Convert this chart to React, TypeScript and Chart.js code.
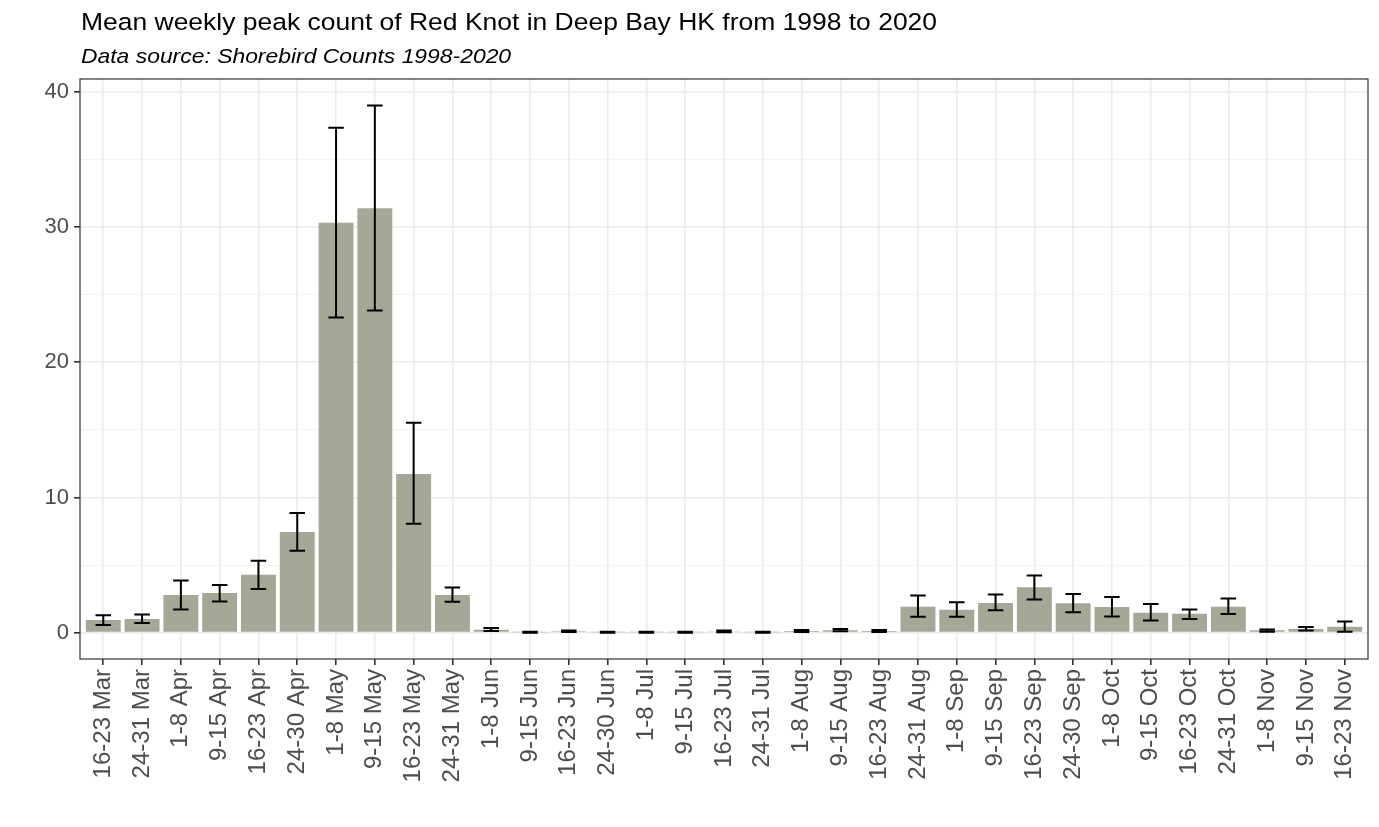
import React, { useEffect, useRef } from "react";
import { Chart, registerables } from "chart.js";

Chart.register(...registerables);

const categories = [
  "16-23 Mar", "24-31 Mar", "1-8 Apr", "9-15 Apr", "16-23 Apr", "24-30 Apr",
  "1-8 May", "9-15 May", "16-23 May", "24-31 May", "1-8 Jun", "9-15 Jun",
  "16-23 Jun", "24-30 Jun", "1-8 Jul", "9-15 Jul", "16-23 Jul", "24-31 Jul",
  "1-8 Aug", "9-15 Aug", "16-23 Aug", "24-31 Aug", "1-8 Sep", "9-15 Sep",
  "16-23 Sep", "24-30 Sep", "1-8 Oct", "9-15 Oct", "16-23 Oct", "24-31 Oct",
  "1-8 Nov", "9-15 Nov", "16-23 Nov",
];

const meanCounts = [
  0.94, 1.01, 2.78, 2.93, 4.29, 7.45, 30.31, 31.39, 11.74, 2.79, 0.22, 0.03,
  0.1, 0.03, 0.03, 0.03, 0.08, 0.03, 0.12, 0.18, 0.12, 1.92, 1.7, 2.2,
  3.35, 2.17, 1.9, 1.48, 1.4, 1.92, 0.17, 0.27, 0.44,
];

const errLow = [
  0.57, 0.71, 1.72, 2.31, 3.23, 6.05, 23.3, 23.82, 8.05, 2.28, 0.13, 0.0,
  0.05, 0.0, 0.0, 0.0, 0.03, 0.0, 0.05, 0.1, 0.05, 1.18, 1.18, 1.65,
  2.46, 1.5, 1.2, 0.89, 1.01, 1.38, 0.07, 0.15, 0.07,
];

const errHigh = [
  1.28, 1.35, 3.86, 3.52, 5.32, 8.85, 37.35, 38.99, 15.53, 3.34, 0.35, 0.07,
  0.15, 0.07, 0.07, 0.07, 0.15, 0.07, 0.2, 0.27, 0.2, 2.75, 2.24, 2.83,
  4.23, 2.86, 2.63, 2.12, 1.72, 2.53, 0.24, 0.42, 0.83,
];

const yTicks = [0, 5, 10, 15, 20, 25, 30, 35, 40];

const titleText = "Mean weekly peak count of Red Knot in Deep Bay HK from 1998 to 2020";
const subtitleText = "Data source: Shorebird Counts 1998-2020";

const FONT = "'Liberation Sans', Arial, sans-serif";

export default function App() {
  const canvasRef = useRef<HTMLCanvasElement | null>(null);

  useEffect(() => {
    document.body.style.margin = "0";
    const canvas = canvasRef.current;
    if (!canvas) return;

    const errorBarPlugin = {
      id: "errorBars",
      afterDatasetsDraw(chart: any) {
        const { ctx, scales } = chart;
        const xs = scales.x;
        const ys = scales.y;
        const unit = Math.abs(xs.getPixelForValue(1) - xs.getPixelForValue(0));
        const half = unit * 0.2;
        ctx.save();
        ctx.strokeStyle = "#000000";
        ctx.lineWidth = 2;
        categories.forEach((_, i) => {
          const x = xs.getPixelForValue(i);
          const yl = ys.getPixelForValue(errLow[i]);
          const yh = ys.getPixelForValue(errHigh[i]);
          ctx.beginPath();
          ctx.moveTo(x, yl);
          ctx.lineTo(x, yh);
          ctx.moveTo(x - half, yl);
          ctx.lineTo(x + half, yl);
          ctx.moveTo(x - half, yh);
          ctx.lineTo(x + half, yh);
          ctx.stroke();
        });
        ctx.restore();
      },
    };

    const framePlugin = {
      id: "frameAndTitles",
      afterDraw(chart: any) {
        const { ctx, chartArea } = chart;
        ctx.save();
        ctx.strokeStyle = "#333333";
        ctx.lineWidth = 1.2;
        ctx.strokeRect(chartArea.left, chartArea.top, chartArea.right - chartArea.left, chartArea.bottom - chartArea.top);
        ctx.fillStyle = "#000000";
        ctx.textAlign = "left";
        ctx.textBaseline = "alphabetic";
        const x0 = chartArea.left + 1;
        ctx.save();
        ctx.translate(x0, 30);
        ctx.scale(1.08, 1);
        ctx.font = `24.5px ${FONT}`;
        ctx.fillText(titleText, 0, 0);
        ctx.restore();
        ctx.save();
        ctx.translate(x0, 63);
        ctx.scale(1.09, 1);
        ctx.font = `italic 21px ${FONT}`;
        ctx.fillText(subtitleText, 0, 0);
        ctx.restore();
        ctx.restore();
      },
    };

    const chart = new Chart(canvas, {
      type: "bar",
      data: {
        datasets: [
          {
            data: meanCounts.map((v, i) => ({ x: i, y: v })),
            backgroundColor: "#A6A797",
            borderWidth: 0,
            barPercentage: 0.9,
            categoryPercentage: 1,
          },
        ],
      },
      options: {
        animation: false,
        responsive: true,
        maintainAspectRatio: false,
        layout: { padding: { top: 79, right: 11, left: 0, bottom: 0 } },
        plugins: {
          legend: { display: false },
          tooltip: { enabled: false },
          title: { display: false },
        },
        scales: {
          x: {
            type: "linear",
            min: -0.6,
            max: categories.length - 1 + 0.6,
            offset: false,
            afterBuildTicks(scale: any) {
              scale.ticks = categories.map((_, i) => ({ value: i }));
            },
            afterFit(scale: any) {
              scale.height = 827 - 659;
            },
            ticks: {
              autoSkip: false,
              minRotation: 90,
              maxRotation: 90,
              padding: 4,
              color: "#4D4D4D",
              font: { family: FONT, size: 24 },
              callback: (value: any) => categories[Math.round(Number(value))] ?? "",
            },
            grid: {
              offset: false,
              color: "#EBEBEB",
              lineWidth: 1.6,
              tickColor: "#333333",
              tickLength: 6,
              drawTicks: true,
            },
            border: { display: false },
          },
          y: {
            type: "linear",
            min: -1.95,
            max: 40.95,
            afterBuildTicks(scale: any) {
              scale.ticks = yTicks.map((v) => ({ value: v }));
            },
            afterFit(scale: any) {
              scale.width = 80;
            },
            ticks: {
              autoSkip: false,
              padding: 5,
              color: "#4D4D4D",
              font: { family: FONT, size: 22 },
              callback: (value: any) => (Number(value) % 10 === 0 ? String(value) : ""),
            },
            grid: {
              color: (c: any) => (c.tick && c.tick.value % 10 === 0 ? "#EBEBEB" : "#F3F3F3"),
              lineWidth: (c: any) => (c.tick && c.tick.value % 10 === 0 ? 1.6 : 0.9),
              tickColor: (c: any) => (c.tick && c.tick.value % 10 === 0 ? "#333333" : "rgba(0,0,0,0)"),
              tickLength: 6,
              drawTicks: true,
            },
            border: { display: false },
          },
        },
      },
      plugins: [errorBarPlugin, framePlugin],
    } as any);

    return () => chart.destroy();
  }, []);

  return (
    <div style={{ position: "relative", width: "1379px", height: "827px", background: "#FFFFFF" }}>
      <canvas ref={canvasRef} />
    </div>
  );
}
